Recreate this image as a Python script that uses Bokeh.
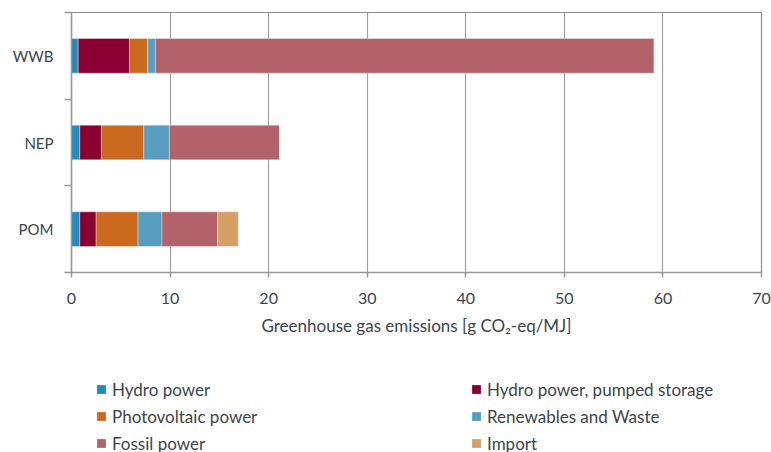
from bokeh.plotting import figure
from bokeh.layouts import column
from bokeh.models import ColumnDataSource, FixedTicker, Legend, LegendItem, Range1d
from bokeh.embed import file_html
from bokeh.resources import INLINE

# ---- data ----
categories = ["WWB", "NEP", "POM"]
series_names = ["Hydro power", "Hydro power, pumped storage", "Photovoltaic power",
                "Renewables and Waste", "Fossil power", "Import"]
hydro = [0.68, 0.84, 0.84]
pumped = [5.2, 2.2, 1.66]
photovoltaic = [1.85, 4.29, 4.25]
renewables = [0.78, 2.6, 2.43]
fossil = [50.6, 11.17, 5.65]
imports = [0.0, 0.0, 2.09]
x_ticks = [0, 10, 20, 30, 40, 50, 60, 70]
x_label = "Greenhouse gas emissions [g CO\u2082-eq/MJ]"

colors = ["#1f8ebe", "#8b0032", "#cb6a1f", "#579dbf", "#b4626a", "#d5a066"]
keys = ["hydro", "pumped", "pv", "renew", "fossil", "imp"]

n = len(categories)
ypos = [n - i - 0.5 for i in range(n)]
source = ColumnDataSource(dict(y=ypos, cat=categories, hydro=hydro, pumped=pumped,
                               pv=photovoltaic, renew=renewables, fossil=fossil, imp=imports))

FONT = "Lato"
TXT = "#3a444e"
GRID = "#a0a0a0"
AX = "#999999"

p = figure(width=771, height=348, output_backend="svg", toolbar_location=None,
           x_range=Range1d(0, 70), y_range=Range1d(0, 3),
           min_border_left=71, min_border_right=10, min_border_top=12, min_border_bottom=76)
p.background_fill_color = "white"
p.border_fill_color = "white"
p.outline_line_color = "#8c8c8c"
p.outline_line_width = 1.2

p.hbar_stack(keys, y="y", height=0.4, color=colors, source=source,
             line_color="white", line_width=0.6, line_alpha=0.6)

# grid
p.ygrid.visible = False
p.xgrid.ticker = FixedTicker(ticks=x_ticks)
p.xgrid.grid_line_color = GRID
p.xgrid.grid_line_width = 1.2

# x axis
xa = p.xaxis[0]
xa.ticker = FixedTicker(ticks=x_ticks)
xa.axis_line_color = AX
xa.axis_line_width = 1.5
xa.major_tick_line_color = AX
xa.major_tick_line_width = 1.5
xa.major_tick_out = 5
xa.major_tick_in = 0
xa.minor_tick_out = 0
xa.minor_tick_in = 0
xa.major_label_standoff = 15
xa.major_label_text_font = FONT
xa.major_label_text_font_size = "16px"
xa.major_label_text_color = TXT
xa.axis_label = x_label
xa.axis_label_text_font = FONT
xa.axis_label_text_font_size = "17px"
xa.axis_label_text_font_style = "normal"
xa.axis_label_text_color = TXT
xa.axis_label_standoff = 8

# y axis
ya = p.yaxis[0]
ya.ticker = FixedTicker(ticks=ypos, minor_ticks=[0, 1, 2, 3])
ya.major_label_overrides = {y: c for y, c in zip(ypos, categories)}
ya.axis_line_color = AX
ya.axis_line_width = 1.5
ya.major_tick_out = 0
ya.major_tick_in = 0
ya.minor_tick_out = 7
ya.minor_tick_in = 0
ya.minor_tick_line_color = AX
ya.minor_tick_line_width = 1.5
ya.major_label_standoff = 11
ya.major_label_text_font = FONT
ya.major_label_text_font_size = "15px"
ya.major_label_text_color = TXT

# legend panel (its frame is aligned with the chart frame by the column layout)
p2 = figure(width=771, height=104, output_backend="svg", toolbar_location=None,
            min_border=0, x_range=Range1d(0, 1), y_range=Range1d(0, 1),
            x_axis_location=None, y_axis_location=None)
p2.grid.visible = False
p2.outline_line_color = None
p2.background_fill_color = "white"
p2.border_fill_color = "white"

proxies = []
for i in range(len(series_names)):
    # legend proxy glyph, kept outside the visible range
    r = p2.scatter(x=[-5], y=[-5], marker="square", size=9, color=colors[i], line_color=None)
    proxies.append(r)

# legend fills column-first: left column = items 0,2,4 ; right column = 1,3,5
order = [0, 2, 4, 1, 3, 5]
items = [LegendItem(label=series_names[i], renderers=[proxies[i]]) for i in order]

legend = Legend(items=items, ncols=2, location=(19, -3),
                glyph_width=22, glyph_height=24, label_height=24, label_width=350,
                label_standoff=0, spacing=3, padding=0, margin=0,
                border_line_color=None, background_fill_alpha=0,
                label_text_font=FONT, label_text_font_size="17px", label_text_color=TXT)
p2.add_layout(legend, "center")

layout = column(p, p2, spacing=0)
open("out.html", "w").write(file_html(layout, INLINE))
